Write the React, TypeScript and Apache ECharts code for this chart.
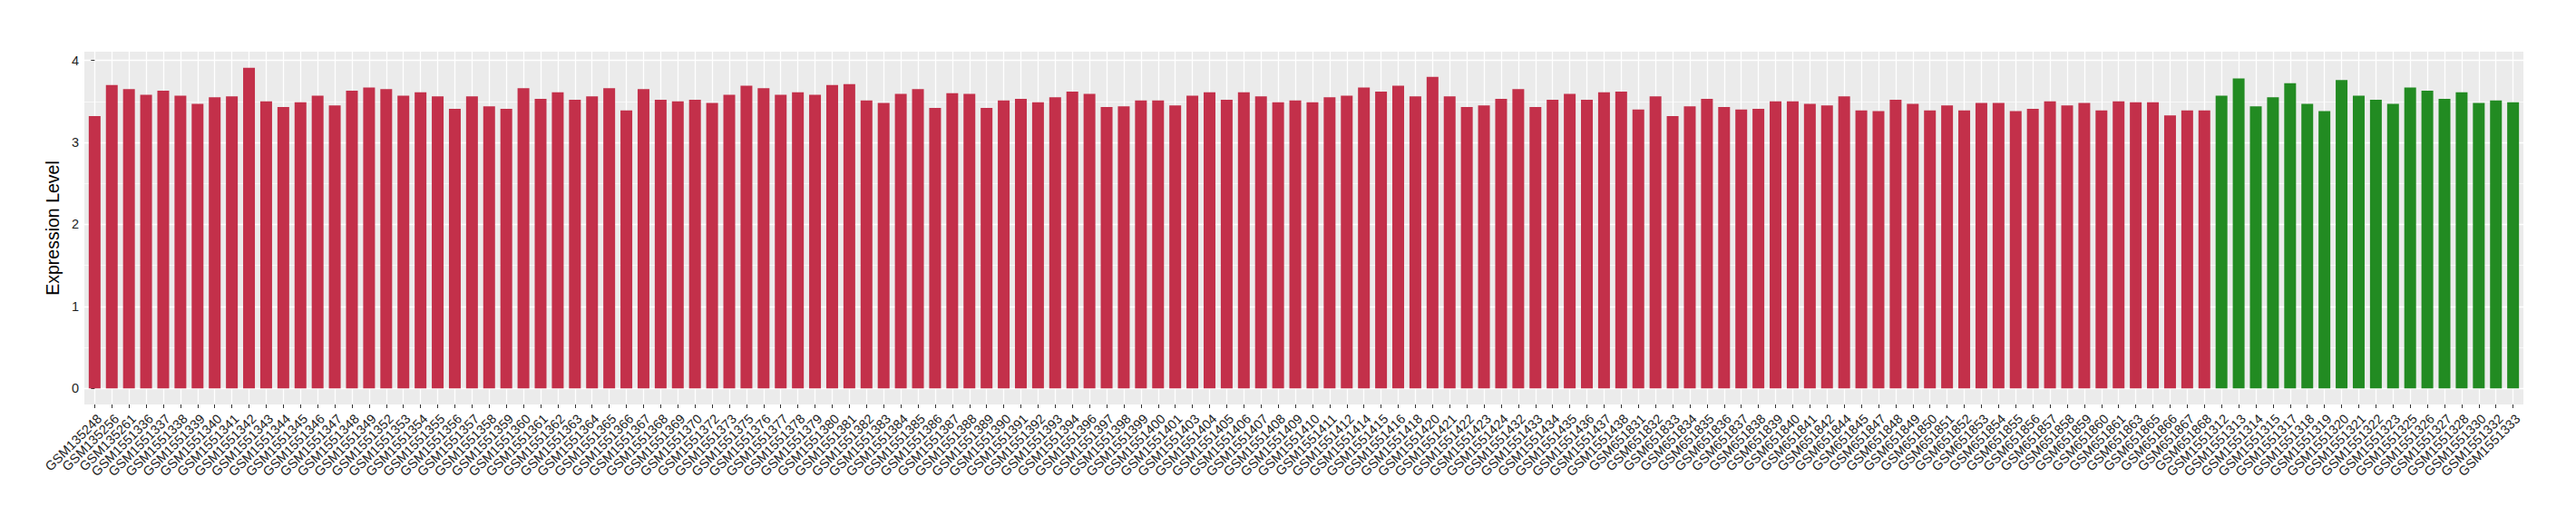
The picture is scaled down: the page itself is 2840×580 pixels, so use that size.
import React, { useEffect, useRef } from "react";
import * as echarts from "echarts";

const groupACategories = [
  "GSM135248", "GSM135256", "GSM135261",
  "GSM1551336", "GSM1551337", "GSM1551338", "GSM1551339", "GSM1551340", "GSM1551341", "GSM1551342",
  "GSM1551343", "GSM1551344", "GSM1551345", "GSM1551346", "GSM1551347", "GSM1551348", "GSM1551349",
  "GSM1551352", "GSM1551353", "GSM1551354", "GSM1551355", "GSM1551356", "GSM1551357", "GSM1551358",
  "GSM1551359", "GSM1551360", "GSM1551361", "GSM1551362", "GSM1551363", "GSM1551364", "GSM1551365",
  "GSM1551366", "GSM1551367", "GSM1551368", "GSM1551369", "GSM1551370",
  "GSM1551372", "GSM1551373",
  "GSM1551375", "GSM1551376", "GSM1551377", "GSM1551378", "GSM1551379", "GSM1551380", "GSM1551381",
  "GSM1551382", "GSM1551383", "GSM1551384", "GSM1551385", "GSM1551386", "GSM1551387", "GSM1551388",
  "GSM1551389", "GSM1551390", "GSM1551391", "GSM1551392", "GSM1551393", "GSM1551394",
  "GSM1551396", "GSM1551397", "GSM1551398", "GSM1551399", "GSM1551400", "GSM1551401",
  "GSM1551403", "GSM1551404", "GSM1551405", "GSM1551406", "GSM1551407", "GSM1551408", "GSM1551409",
  "GSM1551410", "GSM1551411", "GSM1551412",
  "GSM1551414", "GSM1551415", "GSM1551416",
  "GSM1551418",
  "GSM1551420", "GSM1551421", "GSM1551422", "GSM1551423", "GSM1551424",
  "GSM1551432", "GSM1551433", "GSM1551434", "GSM1551435", "GSM1551436", "GSM1551437", "GSM1551438",
  "GSM651831", "GSM651832", "GSM651833", "GSM651834", "GSM651835", "GSM651836", "GSM651837",
  "GSM651838", "GSM651839", "GSM651840", "GSM651841", "GSM651842",
  "GSM651844", "GSM651845",
  "GSM651847", "GSM651848", "GSM651849", "GSM651850", "GSM651851", "GSM651852", "GSM651853",
  "GSM651854", "GSM651855", "GSM651856", "GSM651857", "GSM651858", "GSM651859", "GSM651860", "GSM651861",
  "GSM651863",
  "GSM651865", "GSM651866", "GSM651867", "GSM651868",
];

const groupAValues = [
  3.32, 3.70, 3.65, 3.58, 3.63, 3.57, 3.47, 3.55, 3.56, 3.91,
  3.50, 3.43, 3.49, 3.57, 3.45, 3.63, 3.67, 3.65, 3.57, 3.61,
  3.56, 3.41, 3.56, 3.44, 3.41, 3.66, 3.53, 3.61, 3.52, 3.56,
  3.66, 3.39, 3.65, 3.52, 3.50, 3.52, 3.48, 3.58, 3.69, 3.66,
  3.58, 3.61, 3.58, 3.70, 3.71, 3.51, 3.48, 3.59, 3.65, 3.42,
  3.60, 3.59, 3.42, 3.51, 3.53, 3.49, 3.55, 3.62, 3.59, 3.43,
  3.44, 3.51, 3.51, 3.45, 3.57, 3.61, 3.52, 3.61, 3.56, 3.49,
  3.51, 3.49, 3.55, 3.57, 3.67, 3.62, 3.69, 3.56, 3.80, 3.56,
  3.43, 3.45, 3.53, 3.65, 3.43, 3.52, 3.59, 3.52, 3.61, 3.62,
  3.40, 3.56, 3.32, 3.44, 3.53, 3.43, 3.40, 3.41, 3.50, 3.50,
  3.47, 3.45, 3.56, 3.39, 3.38, 3.52, 3.47, 3.39, 3.45, 3.39,
  3.48, 3.48, 3.38, 3.41, 3.50, 3.45, 3.48, 3.39, 3.50, 3.49,
  3.49, 3.33, 3.39, 3.39,
];

const groupBCategories = [
  "GSM1551312", "GSM1551313", "GSM1551314", "GSM1551315", "GSM1551317", "GSM1551318",
  "GSM1551319", "GSM1551320", "GSM1551321", "GSM1551322", "GSM1551323", "GSM1551325",
  "GSM1551326", "GSM1551327", "GSM1551328", "GSM1551330", "GSM1551332", "GSM1551333",
];

const groupBValues = [
  3.57, 3.78, 3.44, 3.55, 3.72, 3.47, 3.38, 3.76, 3.57,
  3.52, 3.47, 3.67, 3.63, 3.53, 3.61, 3.48, 3.51, 3.49,
];

const yTicks = [0, 1, 2, 3, 4];
const yMinorTicks = [0.5, 1.5, 2.5, 3.5];

const colorA = "#C3304A";
const colorB = "#228B22";
const FONT = "'Liberation Sans', Arial, Helvetica, sans-serif";

const WIDTH = 2840;
const HEIGHT = 580;
const GRID_LEFT = 93;
const GRID_RIGHT = 58;
const GRID_TOP = 57;
const GRID_BOTTOM = 134;
const X_EXPAND = 0.6;

export default function App() {
  const ref = useRef<HTMLDivElement>(null);

  useEffect(() => {
    document.body.style.margin = "0";
    const chart = echarts.init(ref.current as HTMLDivElement, null, { renderer: "svg" });

    const categories = [...groupACategories, ...groupBCategories];
    const values = [...groupAValues, ...groupBValues];
    const idx = categories.map((_, i) => i);
    const n = categories.length;
    const data = values.map((v, i) => ({
      value: [i, v],
      itemStyle: { color: i < groupACategories.length ? colorA : colorB },
    }));
    const maxV = Math.max(...values);
    const pad = maxV * 0.05;

    // label grid: category bands aligned exactly with the bar centres
    const panelW = WIDTH - GRID_LEFT - GRID_RIGHT;
    const step = panelW / (n - 1 + 2 * X_EXPAND);
    const inset = (X_EXPAND - 0.5) * step;

    chart.setOption({
      animation: false,
      textStyle: { fontFamily: FONT },
      grid: [
        {
          left: GRID_LEFT,
          right: GRID_RIGHT,
          top: GRID_TOP,
          bottom: GRID_BOTTOM,
          show: true,
          backgroundColor: "#EBEBEB",
          borderWidth: 0,
          containLabel: false,
        },
        {
          left: GRID_LEFT + inset,
          right: GRID_RIGHT + inset,
          top: GRID_TOP,
          bottom: GRID_BOTTOM,
          show: false,
          containLabel: false,
        },
      ],
      xAxis: [
        {
          type: "value",
          gridIndex: 0,
          min: -X_EXPAND,
          max: n - 1 + X_EXPAND,
          axisLine: { show: false },
          axisTick: { show: false, customValues: idx },
          axisLabel: { show: false, customValues: idx },
          splitLine: { show: true, lineStyle: { color: "#FFFFFF", width: 1.3 } },
        },
        {
          type: "category",
          gridIndex: 1,
          data: categories,
          boundaryGap: true,
          axisLine: { show: false },
          axisTick: {
            show: true,
            interval: 0,
            alignWithLabel: true,
            length: 4,
            lineStyle: { color: "#333333", width: 1 },
          },
          axisLabel: {
            show: true,
            interval: 0,
            rotate: 45,
            align: "right",
            verticalAlign: "top",
            margin: 8,
            fontSize: 14.5,
            color: "#1E1E1E",
            fontFamily: FONT,
          },
          splitLine: { show: false },
        },
      ],
      yAxis: [
        {
          type: "value",
          gridIndex: 0,
          min: -pad,
          max: maxV + pad,
          position: "left",
          name: "Expression Level",
          nameLocation: "middle",
          nameGap: 20,
          nameTextStyle: { fontSize: 19.5, color: "#000000", fontFamily: FONT },
          axisLine: { show: false },
          axisTick: {
            show: true,
            customValues: yTicks,
            length: 4,
            lineStyle: { color: "#333333", width: 1 },
          },
          axisLabel: {
            show: true,
            customValues: yTicks,
            margin: 6,
            fontSize: 14.5,
            color: "#1E1E1E",
            fontFamily: FONT,
            showMinLabel: true,
            showMaxLabel: true,
          },
          splitLine: { show: true, lineStyle: { color: "#FFFFFF", width: 1.3 } },
        },
        {
          type: "value",
          gridIndex: 0,
          min: -pad,
          max: maxV + pad,
          position: "left",
          axisLine: { show: false },
          axisTick: { show: false, customValues: yMinorTicks },
          axisLabel: { show: false, customValues: yMinorTicks },
          splitLine: { show: true, lineStyle: { color: "#FFFFFF", width: 0.65 } },
        },
        {
          type: "value",
          gridIndex: 1,
          show: false,
          min: 0,
          max: 1,
          splitLine: { show: false },
        },
      ],
      series: [
        {
          type: "bar",
          xAxisIndex: 0,
          yAxisIndex: 0,
          barWidth: 13,
          data,
        },
      ],
    });

    return () => {
      chart.dispose();
    };
  }, []);

  return <div ref={ref} style={{ width: WIDTH, height: HEIGHT }} />;
}
